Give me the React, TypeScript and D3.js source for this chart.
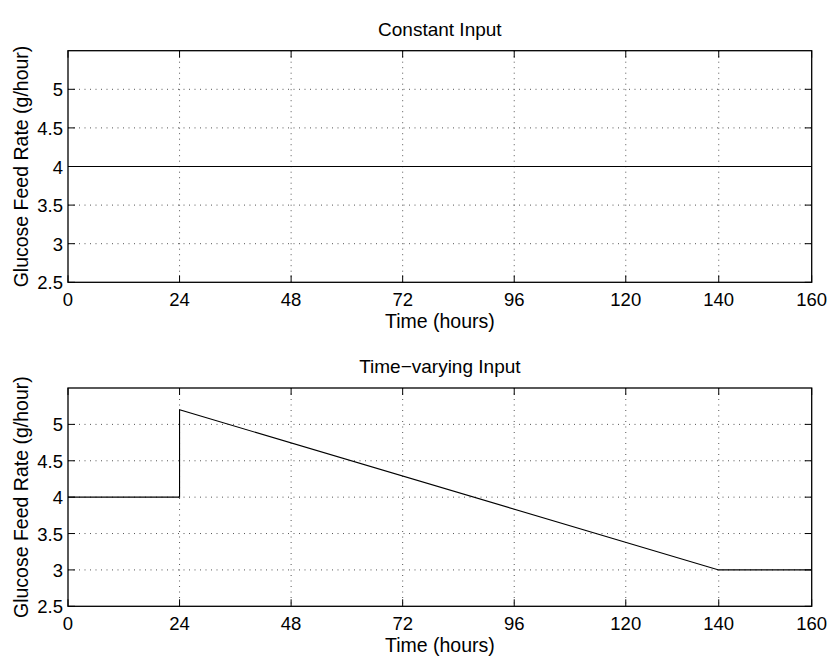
import React from "react";
import * as d3 from "d3";

// Glucose feed-rate schedules (hours, g/hour)
const constantTime = [0, 160];
const constantRate = [4, 4];
const varyingTime = [0, 24, 24, 140, 160];
const varyingRate = [4, 4, 5.2, 3, 3];

const xTicks = [0, 24, 48, 72, 96, 120, 140, 160];
const yTicks = [2.5, 3, 3.5, 4, 4.5, 5];
const xDomain: [number, number] = [0, 160];
const yDomain: [number, number] = [2.5, 5.5];

const titles = ["Constant Input", "Time\u2212varying Input"];
const xLabel = "Time (hours)";
const yLabel = "Glucose Feed Rate (g/hour)";

const W = 831;
const H = 657;
const FONT = "'Liberation Sans', Arial, Helvetica, sans-serif";

type PanelProps = {
  top: number;
  bottom: number;
  title: string;
  times: number[];
  rates: number[];
};

const LEFT = 68;
const RIGHT = 811.7;
const TICK = 7;

function Panel({ top, bottom, title, times, rates }: PanelProps) {
  const x = d3.scaleLinear().domain(xDomain).range([LEFT, RIGHT]);
  const y = d3.scaleLinear().domain(yDomain).range([bottom, top]);
  const pts: [number, number][] = times.map((t, i) => [t, rates[i]]);
  const line = d3
    .line<[number, number]>()
    .x((d) => x(d[0]))
    .y((d) => y(d[1]));
  const cx = (LEFT + RIGHT) / 2;
  const cy = (top + bottom) / 2;
  return (
    <g>
      {/* dotted grid */}
      {xTicks
        .filter((t) => t !== xDomain[0] && t !== xDomain[1])
        .map((t) => (
          <line
            key={"gx" + t}
            x1={x(t)}
            x2={x(t)}
            y1={top}
            y2={bottom}
            stroke="#555"
            strokeWidth={1}
            strokeDasharray="1,4.5"
          />
        ))}
      {yTicks
        .filter((t) => t !== yDomain[0] && t !== yDomain[1])
        .map((t) => (
          <line
            key={"gy" + t}
            x1={LEFT}
            x2={RIGHT}
            y1={y(t)}
            y2={y(t)}
            stroke="#555"
            strokeWidth={1}
            strokeDasharray="1,4.5"
          />
        ))}
      {/* data */}
      <path d={line(pts) ?? ""} fill="none" stroke="#000" strokeWidth={1.1} />
      {/* ticks on all four sides, pointing inward */}
      {xTicks.map((t) => (
        <g key={"tx" + t}>
          <line x1={x(t)} x2={x(t)} y1={bottom} y2={bottom - TICK} stroke="#000" strokeWidth={1} />
          <line x1={x(t)} x2={x(t)} y1={top} y2={top + TICK} stroke="#000" strokeWidth={1} />
          <text
            x={x(t)}
            y={bottom + 24}
            textAnchor="middle"
            fontFamily={FONT}
            fontSize={18.5}
            fill="#000"
          >
            {t}
          </text>
        </g>
      ))}
      {yTicks.map((t) => (
        <g key={"ty" + t}>
          <line x1={LEFT} x2={LEFT + TICK} y1={y(t)} y2={y(t)} stroke="#000" strokeWidth={1} />
          <line x1={RIGHT} x2={RIGHT - TICK} y1={y(t)} y2={y(t)} stroke="#000" strokeWidth={1} />
          <text
            x={LEFT - 5}
            y={y(t) + 7}
            textAnchor="end"
            fontFamily={FONT}
            fontSize={18.5}
            fill="#000"
          >
            {t}
          </text>
        </g>
      ))}
      {/* frame */}
      <rect
        x={LEFT}
        y={top}
        width={RIGHT - LEFT}
        height={bottom - top}
        fill="none"
        stroke="#000"
        strokeWidth={1.3}
      />
      {/* labels */}
      <text
        x={cx}
        y={top - 14.7}
        textAnchor="middle"
        fontFamily={FONT}
        fontSize={19}
        fill="#000"
      >
        {title}
      </text>
      <text
        x={cx}
        y={bottom + 45.5}
        textAnchor="middle"
        fontFamily={FONT}
        fontSize={19.5}
        fill="#000"
      >
        {xLabel}
      </text>
      <text
        transform={`translate(27.5,${cy}) rotate(-90)`}
        textAnchor="middle"
        fontFamily={FONT}
        fontSize={19.5}
        fill="#000"
      >
        {yLabel}
      </text>
    </g>
  );
}

export default function App() {
  return (
    <svg
      width={W}
      height={H}
      viewBox={`0 0 ${W} ${H}`}
      style={{ position: "absolute", left: 0, top: 0, background: "#fff", display: "block" }}
    >
      <rect width={W} height={H} fill="#fff" />
      <Panel top={50.7} bottom={282.3} title={titles[0]} times={constantTime} rates={constantRate} />
      <Panel top={388} bottom={606.3} title={titles[1]} times={varyingTime} rates={varyingRate} />
    </svg>
  );
}
